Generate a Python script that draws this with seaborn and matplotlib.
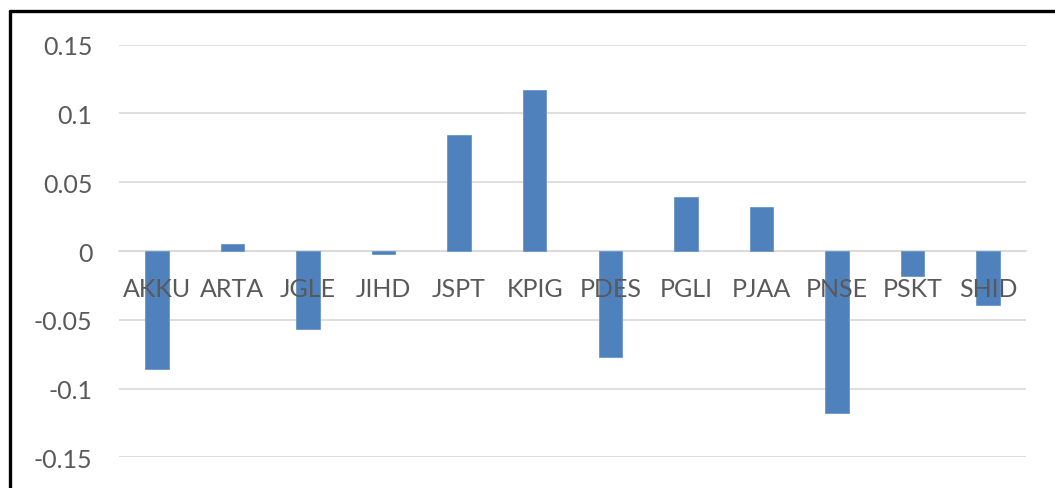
import matplotlib
matplotlib.use("Agg")
import matplotlib.pyplot as plt
from matplotlib.lines import Line2D
import seaborn as sns
import pandas as pd

# Ticker codes and their values
tickers = ["AKKU", "ARTA", "JGLE", "JIHD", "JSPT", "KPIG",
           "PDES", "PGLI", "PJAA", "PNSE", "PSKT", "SHID"]
values = [-0.086, 0.005, -0.057, -0.002, 0.084, 0.117,
          -0.077, 0.039, 0.032, -0.118, -0.018, -0.039]
y_ticks = [-0.15, -0.1, -0.05, 0, 0.05, 0.1, 0.15]
y_tick_labels = ["-0.15", "-0.1", "-0.05", "0", "0.05", "0.1", "0.15"]

sns.set_theme(style="white")
plt.rcParams["font.family"] = ["Lato", "DejaVu Sans"]

df = pd.DataFrame({"ticker": tickers, "value": values})

fig = plt.figure(figsize=(10.55, 4.89), dpi=100)
ax = fig.add_axes([0.1128, 0.0628, 0.8597, 0.8437])

sns.barplot(data=df, x="ticker", y="value", color="#4F81BD",
            saturation=1, width=0.31, ax=ax, zorder=3,
            edgecolor="#6A96CC", linewidth=0.6)

ax.set_ylim(-0.15, 0.15)
ax.set_xlim(-0.5, len(tickers) - 0.5)
ax.set_yticks(y_ticks)
ax.set_yticklabels(y_tick_labels)
ax.grid(axis="y", color="#D9D9D9", linewidth=1.2, zorder=0)
ax.set_axisbelow(True)

for side in ["top", "right", "left"]:
    ax.spines[side].set_visible(False)
ax.spines["bottom"].set_position(("data", 0))
ax.spines["bottom"].set_color("#D9D9D9")
ax.spines["bottom"].set_linewidth(1.2)
ax.spines["bottom"].set_zorder(1)

ax.set_xlabel("")
ax.set_ylabel("")
ax.tick_params(axis="y", length=0, pad=19, labelsize=18, labelcolor="#595959")
ax.tick_params(axis="x", length=0, pad=19, labelsize=18, labelcolor="#595959")
# category names sit on top of the bars
ax.xaxis.set_zorder(5)

# Frame lines along the top and left edges of the figure
W, H = 1055, 489
fig.add_artist(Line2D([9.8 / W, 1.0], [1 - 11.5 / H, 1 - 11.5 / H],
                      transform=fig.transFigure, color="black", linewidth=2.4))
fig.add_artist(Line2D([9.8 / W, 9.8 / W], [0, 1 - 11.5 / H],
                      transform=fig.transFigure, color="black", linewidth=2.4))

fig.savefig("out.png", dpi=100)
